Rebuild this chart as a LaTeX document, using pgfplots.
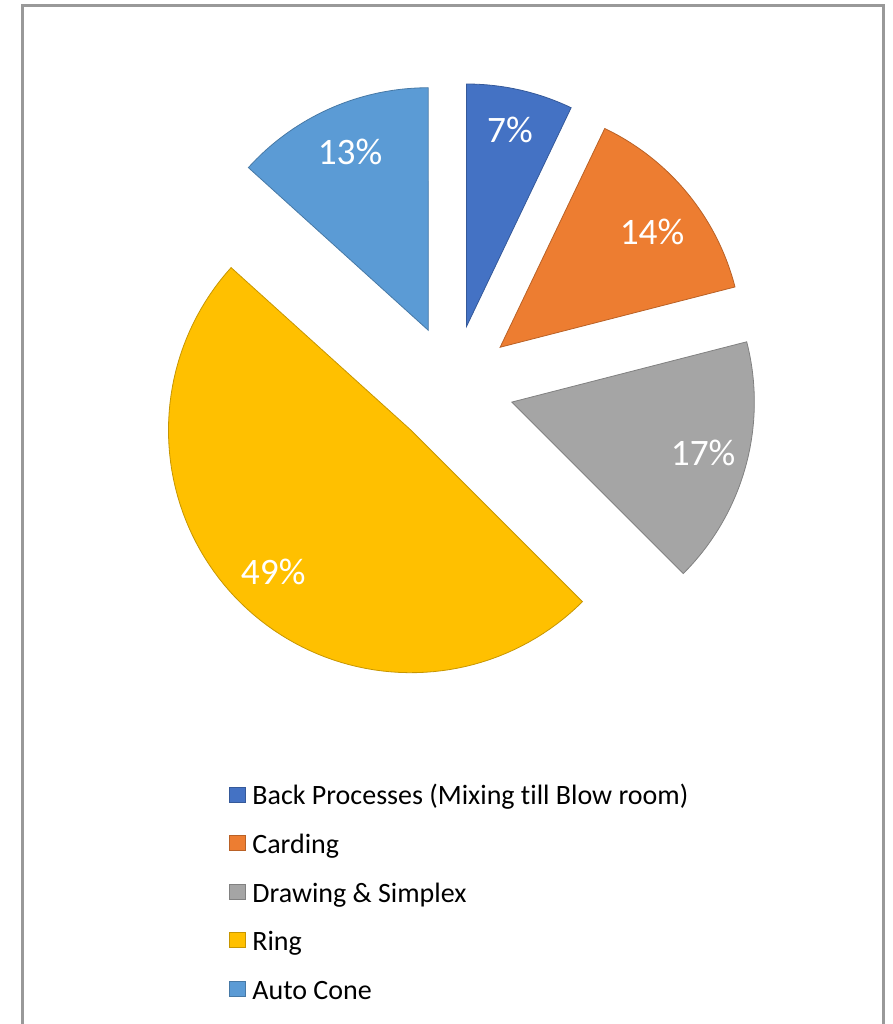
\documentclass[border=0pt]{standalone}
\usepackage{pgfplots}
\pgfplotsset{compat=1.18}
\usepackage{fontspec}
\setmainfont{Carlito}[Ligatures={NoCommon}]
\definecolor{cA}{HTML}{4472C4}
\definecolor{cB}{HTML}{ED7D31}
\definecolor{cC}{HTML}{A5A5A5}
\definecolor{cD}{HTML}{FFC000}
\definecolor{cE}{HTML}{5B9BD5}
% data (percent; labels rounded)
\def\vA{7.1}\def\vB{13.9}\def\vC{16.5}\def\vD{49.2}\def\vE{13.3}
\def\cx{453}\def\cy{638}\def\R{242.5}\def\ex{61}
% cumulative start/end angles (clockwise from top)
\pgfmathsetmacro\aA{90}
\pgfmathsetmacro\aB{90-3.6*\vA}
\pgfmathsetmacro\aC{\aB-3.6*\vB}
\pgfmathsetmacro\aD{\aC-3.6*\vC}
\pgfmathsetmacro\aE{\aD-3.6*\vD}
\pgfmathsetmacro\aF{\aE-3.6*\vE}
\newcommand\pieslice[6]{% start, end, color, value, label radius, label angle shift
  \pgfmathsetmacro\midang{(#1+#2)/2}
  \pgfmathsetmacro\ox{\cx+\ex*cos(\midang)}
  \pgfmathsetmacro\oy{\cy+\ex*sin(\midang)}
  \pgfmathsetmacro\lx{\ox+#5*cos(\midang+#6)}
  \pgfmathsetmacro\ly{\oy+#5*sin(\midang+#6)}
  \pgfmathsetmacro\lab{round(#4)}
  \pgfmathtruncatemacro\labi{\lab}
  \edef\temp{\noexpand\addplot[fill=#3, draw=#3!78!black, line width=0.6pt, domain=#1:#2, samples=90]
    ({\ox+\R*cos(x)},{\oy+\R*sin(x)}) -- (axis cs:\ox,\oy) -- cycle;
    \noexpand\node[text=white, font=\noexpand\fontsize{28}{32}\noexpand\selectfont] at (axis cs:\lx,\ly) {\labi\noexpand\%};}
  \temp
}
\begin{document}
\begin{tikzpicture}
\begin{axis}[
  width=669pt, height=768pt, scale only axis,
  xmin=0, xmax=892, ymin=0, ymax=1024,
  hide axis, clip=true,
  legend image code/.code={\path[#1] (0pt,-3.5pt) rectangle (12pt,7.75pt);},
  legend cell align=left,
  legend style={at={(axis cs:224.3,242)}, anchor=north west, draw=none, fill=none,
    font=\fontsize{21}{25}\selectfont, row sep=17.4pt, column sep=2.25pt,
    nodes={inner xsep=3pt, inner ysep=0pt, text height=15pt, text depth=4pt}},
]
\path (axis cs:0,0) rectangle (axis cs:892,1024);
\draw[black!40, line width=1.6pt] (axis cs:22.5,0) -- (axis cs:22.5,1018.5) -- (axis cs:883.5,1018.5) -- (axis cs:883.5,0);
\pieslice{\aA}{\aB}{cA}{\vA}{201.3}{0.3}
\addlegendentry{Back Processes (Mixing till Blow room)}
\pieslice{\aB}{\aC}{cB}{\vB}{191}{-2.1}
\addlegendentry{Carding}
\pieslice{\aC}{\aD}{cC}{\vC}{198}{0.3}
\addlegendentry{Drawing \& Simplex}
\pieslice{\aD}{\aE}{cD}{\vD}{197.8}{-0.6}
\addlegendentry{Ring}
\pieslice{\aE}{\aF}{cE}{\vE}{195.1}{-0.3}
\addlegendentry{Auto Cone}
\end{axis}
\end{tikzpicture}
\end{document}
